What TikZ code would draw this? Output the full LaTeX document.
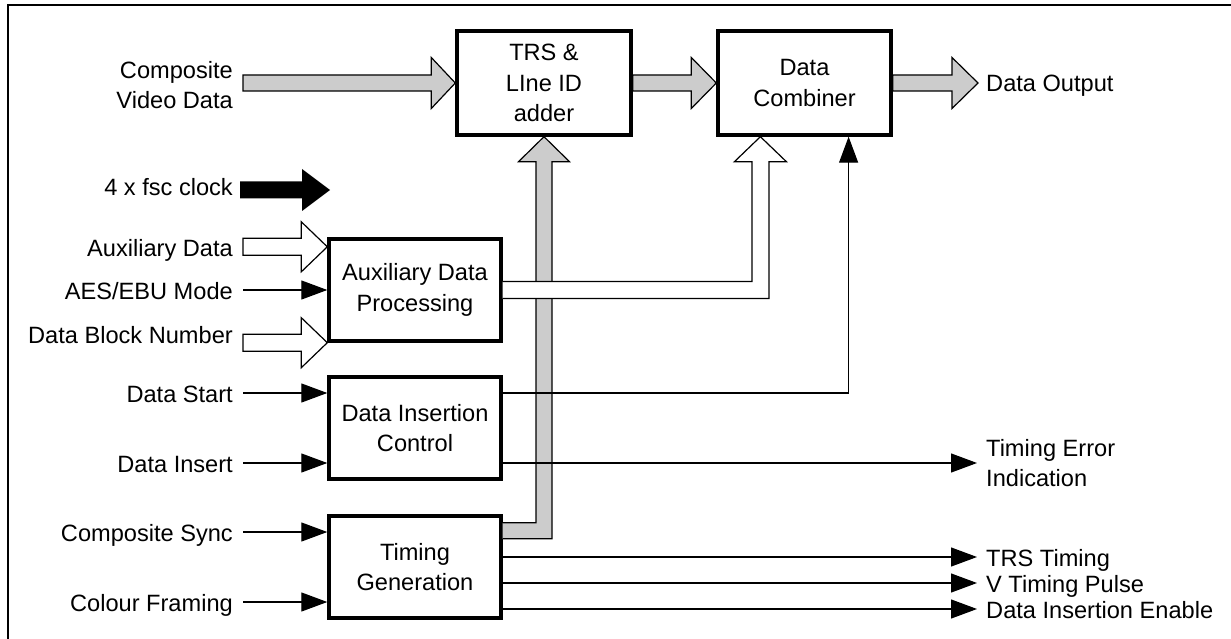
\documentclass[tikz,border=0pt]{standalone}
\usepackage{fontspec}
\setmainfont{Liberation Sans}
\usetikzlibrary{arrows.meta,calc}
\newcommand\rblock[6]{%
  \path[#1] let \p1=#2, \p2=#3 in
    (\x1,\y2+#4) -- (\x2-#6,\y2+#4) -- (\x2-#6,\y2+#5) -- (\x2,\y2)
    -- (\x2-#6,\y2-#5) -- (\x2-#6,\y2-#4) -- (\x1,\y2-#4) -- cycle;}
\begin{document}
\begin{tikzpicture}[x=1pt,y=-1pt,
  every node/.style={font=\fontsize{23.6}{30.5}\selectfont, inner sep=0pt},
  box/.style={draw, line width=3.4pt, minimum width=172pt, minimum height=102pt, align=center},
  lbl/.style={text height=18pt, text depth=0pt},
  sig/.style={line width=1.2pt, -{Triangle[length=26pt,width=19pt]}},
  shaded/.style={draw, line width=1.2pt, fill=black!20},
  hollow/.style={draw, line width=1.2pt, fill=white},
  solidarrow/.style={fill=black}
]
\useasboundingbox (0,0) rectangle (1231,639);
\draw[line width=2.8pt] (8,639) -- (8,5) -- (1231,5);

% boxes
\node[box, minimum width=174pt, minimum height=104pt] (trs) at (544,83) {TRS \&\\LIne ID\\adder};
\node[box, minimum width=173pt, minimum height=104pt] (dc) at (804.5,83) {Data\\Combiner};
\node[box] (aux) at (415,290) {Auxiliary Data\\Processing};
\node[box] (dic) at (415,428) {Data Insertion\\Control};
\node[box] (tg) at (415,567) {Timing\\Generation};

% left labels
\node[anchor=east, align=right] (cvd) at (233,85) {Composite\\Video Data};
\node[lbl, anchor=east] (clk) at (233,187) {4 x fsc clock};
\node[lbl, anchor=east] (auxd) at (233,247) {Auxiliary Data};
\node[lbl, anchor=east] (aes) at (233,290) {AES/EBU Mode};
\node[lbl, anchor=east] (dbn) at (233,334) {Data Block Number};
\node[lbl, anchor=east] (ds) at (233,393) {Data Start};
\node[lbl, anchor=east] (di) at (233,463) {Data Insert};
\node[lbl, anchor=east] (cs) at (233,532) {Composite Sync};
\node[lbl, anchor=east] (cf) at (233,602) {Colour Framing};

% right labels
\node[lbl, anchor=west] (out) at (986,83) {Data Output};
\node[anchor=west, align=left] (tei) at (986,463) {Timing Error\\Indication};
\node[lbl, anchor=west] (trst) at (986,557) {TRS Timing};
\node[lbl, anchor=west] (vtp) at (986,583) {V Timing Pulse};
\node[lbl, anchor=west] (die) at (986,609) {Data Insertion Enable};

\coordinate (clktip) at (330,190);
\coordinate (dcA) at ($(dc.south west)!0.25!(dc.south east)$);
\coordinate (dcB) at ($(dc.south west)!0.75!(dc.south east)$);

% block arrows
\rblock{shaded}{([xshift=10pt]cvd.east)}{(trs.west)}{8pt}{25.5pt}{24pt}
\rblock{shaded}{(trs.east)}{(dc.west)}{8pt}{25.5pt}{25pt}
\rblock{shaded}{(dc.east)}{([xshift=-8pt]out.west)}{8pt}{25.5pt}{26pt}
\rblock{solidarrow}{([xshift=7pt]clk.east)}{(clktip)}{8.5pt}{21pt}{28pt}
\rblock{hollow}{([xshift=10pt]auxd.east)}{([yshift=-9.5pt]aux.north west)}{8.5pt}{25pt}{26pt}
\rblock{hollow}{([xshift=10pt]dbn.east)}{(aux.south west)}{8.5pt}{25pt}{26pt}

% shaded L arrow from timing generation to TRS adder
\path[shaded] let \p1=(trs.south), \p2=(tg.north east) in
  (\x2,\y2-8.5pt) -- (\x1-8pt,\y2-8.5pt) -- (\x1-8pt,\y1-25pt) -- (\x1-25.5pt,\y1-25pt)
  -- (\x1,\y1) -- (\x1+25.5pt,\y1-25pt) -- (\x1+8pt,\y1-25pt) -- (\x1+8pt,\y2-24.5pt)
  -- (\x2,\y2-24.5pt);

% hollow arrow from aux processing to data combiner
\path[hollow] let \p1=(dcA), \p2=(aux.east) in
  (\x2,\y2+8.5pt) -- (\x1-8.5pt,\y2+8.5pt) -- (\x1-8.5pt,\y1-25pt) -- (\x1-26pt,\y1-25pt)
  -- (\x1,\y1) -- (\x1+26pt,\y1-25pt) -- (\x1+8.5pt,\y1-25pt) -- (\x1+8.5pt,\y2-8.5pt)
  -- (\x2,\y2-8.5pt);

% signal lines
\draw[sig] ([xshift=10pt]aes.east) -- (aes.east -| aux.west);
\draw[sig] ([xshift=10pt]ds.east) -- (ds.east -| dic.west);
\draw[sig] ([xshift=10pt]di.east) -- (di.east -| dic.west);
\draw[sig] ([xshift=10pt]cs.east) -- (cs.east -| tg.west);
\draw[sig] ([xshift=10pt]cf.east) -- (cf.east -| tg.west);
\draw[sig] (ds.east -| dic.east) -| (dcB);
\draw[sig] (tei.west -| dic.east) -- ([xshift=-9pt]tei.west);
\draw[sig] (trst.west -| tg.east) -- ([xshift=-9pt]trst.west);
\draw[sig] (vtp.west -| tg.east) -- ([xshift=-9pt]vtp.west);
\draw[sig] (die.west -| tg.east) -- ([xshift=-9pt]die.west);
\end{tikzpicture}
\end{document}
